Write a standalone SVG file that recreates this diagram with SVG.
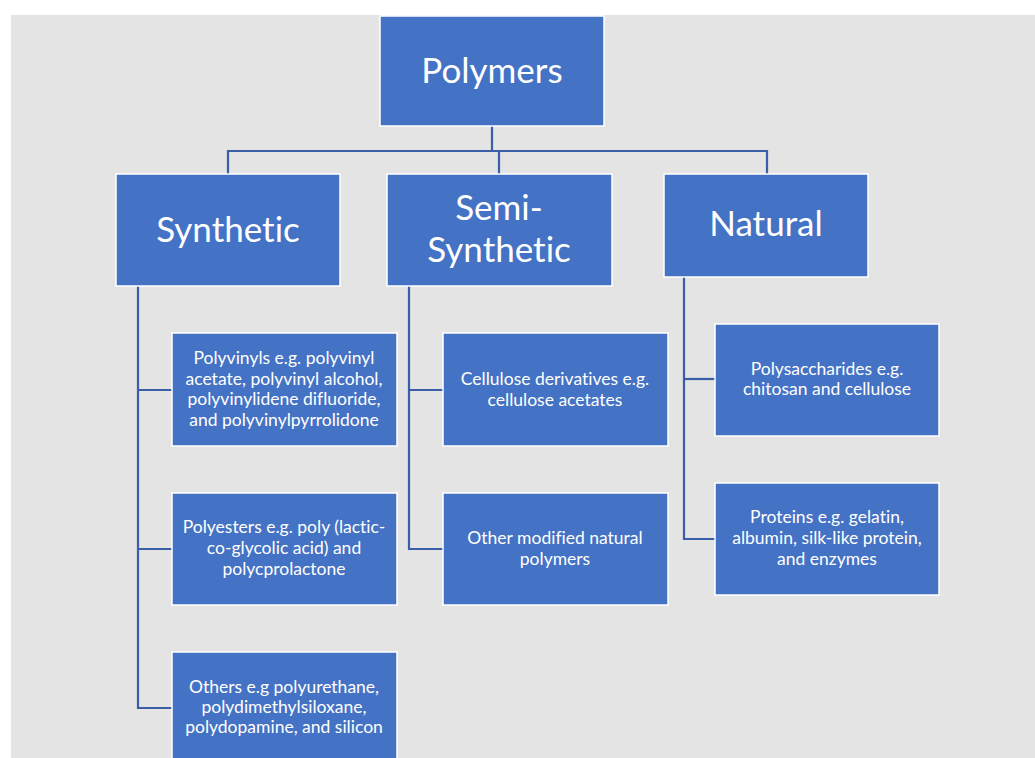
<svg xmlns="http://www.w3.org/2000/svg" width="1035" height="758" viewBox="0 0 1035 758">
<style>
.bg{fill:#e4e4e4}
.box{fill:#4472c4;stroke:#ffffff;stroke-width:1.5}
text{font-variant-ligatures:none;font-feature-settings:"liga" 0}
.big{font-family:Lato,"Open Sans",sans-serif;font-size:35px;fill:#ffffff;text-anchor:middle}
.sm{font-family:Lato,"Open Sans",sans-serif;font-size:17.5px;fill:#ffffff;text-anchor:middle}
.con{fill:none;stroke:#3a5ea8;stroke-width:2.2}
</style>
<rect x="0" y="0" width="1035" height="758" fill="#ffffff"/>
<rect class="bg" x="11" y="15" width="1024" height="743"/>
<g id="connectors">
<polyline class="con" points="492,126 492,151"/>
<polyline class="con" points="228,174 228,151 767,151 767,174"/>
<polyline class="con" points="499,151 499,174"/>
<polyline class="con" points="138,286 138,708 172,708"/>
<polyline class="con" points="138,390 172,390"/>
<polyline class="con" points="138,549 172,549"/>
<polyline class="con" points="409,286 409,549 443,549"/>
<polyline class="con" points="409,390 443,390"/>
<polyline class="con" points="684,277 684,539 715,539"/>
<polyline class="con" points="684,379 715,379"/>
</g>
<g id="polymers">
<rect class="box" x="380" y="16" width="224" height="110"/>
<text class="big" x="492" y="83">Polymers</text>
</g>
<g id="synthetic">
<rect class="box" x="116" y="174" width="224" height="112"/>
<text class="big" x="228" y="242">Synthetic</text>
</g>
<g id="semi-synthetic">
<rect class="box" x="387" y="174" width="225" height="112"/>
<text class="big" x="499" y="220">Semi-</text>
<text class="big" x="499" y="262">Synthetic</text>
</g>
<g id="natural">
<rect class="box" x="664" y="174" width="204" height="103"/>
<text class="big" x="766" y="236">Natural</text>
</g>
<g id="polyvinyls">
<rect class="box" x="172" y="333" width="225" height="113"/>
<text class="sm" x="284" y="364">Polyvinyls e.g. polyvinyl</text>
<text class="sm" x="284" y="385">acetate, polyvinyl alcohol,</text>
<text class="sm" x="284" y="405">polyvinylidene difluoride,</text>
<text class="sm" x="284" y="426">and polyvinylpyrrolidone</text>
</g>
<g id="polyesters">
<rect class="box" x="172" y="493" width="225" height="112"/>
<text class="sm" x="284" y="533">Polyesters e.g. poly (lactic-</text>
<text class="sm" x="284" y="554">co-glycolic acid) and</text>
<text class="sm" x="284" y="575">polycprolactone</text>
</g>
<g id="others">
<rect class="box" x="172" y="652" width="225" height="113"/>
<text class="sm" x="284" y="693">Others e.g polyurethane,</text>
<text class="sm" x="284" y="713">polydimethylsiloxane,</text>
<text class="sm" x="284" y="733">polydopamine, and silicon</text>
</g>
<g id="cellulose">
<rect class="box" x="443" y="333" width="225" height="113"/>
<text class="sm" x="555" y="385">Cellulose derivatives e.g.</text>
<text class="sm" x="555" y="406">cellulose acetates</text>
</g>
<g id="other-modified">
<rect class="box" x="443" y="493" width="225" height="112"/>
<text class="sm" x="555" y="544">Other modified natural</text>
<text class="sm" x="555" y="565">polymers</text>
</g>
<g id="polysaccharides">
<rect class="box" x="715" y="324" width="224" height="112"/>
<text class="sm" x="827" y="375">Polysaccharides e.g.</text>
<text class="sm" x="827" y="395">chitosan and cellulose</text>
</g>
<g id="proteins">
<rect class="box" x="715" y="483" width="224" height="112"/>
<text class="sm" x="827" y="523">Proteins e.g. gelatin,</text>
<text class="sm" x="827" y="544">albumin, silk-like protein,</text>
<text class="sm" x="827" y="565">and enzymes</text>
</g>
</svg>
